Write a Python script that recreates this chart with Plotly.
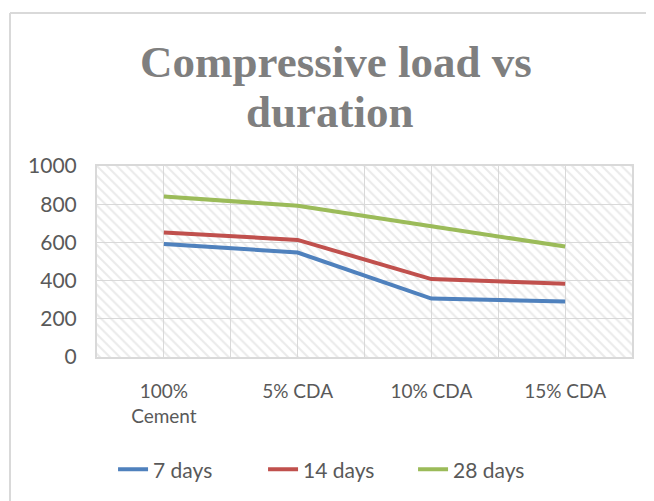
import plotly.graph_objects as go

categories = ["100%<br>Cement", "5% CDA", "10% CDA", "15% CDA"]
days_7 = [592, 547, 306, 290]
days_14 = [652, 613, 408, 384]
days_28 = [840, 792, 685, 578]
y_ticks = [0, 200, 400, 600, 800, 1000]
title_lines = ["Compressive load vs", "duration"]

series = [
    ("7 days", days_7, "#4F81BD"),
    ("14 days", days_14, "#C0504D"),
    ("28 days", days_28, "#9BBB59"),
]

xpos = list(range(len(categories)))
font_family = "Lato, Open Sans, sans-serif"
text_color = "#595959"
grid_color = "#d9d9d9"

fig = go.Figure()

# hatched plot-area background on a hidden unit axis pair
fig.add_trace(go.Scatter(
    x=[0, 1, 1, 0, 0], y=[0, 0, 1, 1, 0],
    xaxis="x", yaxis="y",
    mode="lines", line=dict(width=0),
    fill="toself", fillcolor="rgba(0,0,0,0)",
    fillpattern=dict(shape="\\", fgcolor="#d6d6d6", bgcolor="rgba(0,0,0,0)",
                     size=7, solidity=0.3),
    hoverinfo="skip", showlegend=False,
))

for name, vals, color in series:
    fig.add_trace(go.Scatter(
        x=xpos, y=vals, name=name, mode="lines",
        xaxis="x2", yaxis="y2",
        line=dict(color=color, width=4),
    ))

fig.update_layout(
    width=646, height=493,
    margin=dict(l=89, r=22, t=158, b=144, autoexpand=False),
    paper_bgcolor="white", plot_bgcolor="white",
    font=dict(family=font_family, color=text_color, size=20),
    xaxis=dict(range=[0, 1], visible=False, fixedrange=True),
    yaxis=dict(range=[0, 1], visible=False, fixedrange=True),
    xaxis2=dict(
        overlaying="x", range=[-0.5, len(categories) - 0.5],
        tickmode="array", tickvals=xpos, ticktext=categories,
        showgrid=True, gridcolor=grid_color, gridwidth=1,
        minor=dict(tickmode="linear", tick0=-0.5, dtick=1, showgrid=True,
                   gridcolor=grid_color, gridwidth=1, ticks=""),
        ticks="outside", ticklen=16, tickcolor="rgba(0,0,0,0)",
        showline=True, linecolor=grid_color, linewidth=2, mirror=True,
        zeroline=False, tickfont=dict(size=19, color=text_color),
    ),
    yaxis2=dict(
        overlaying="y", range=[0, 1000], tickvals=y_ticks,
        showgrid=True, gridcolor=grid_color, gridwidth=1,
        ticks="outside", ticklen=14, tickcolor="rgba(0,0,0,0)",
        showline=True, linecolor=grid_color, linewidth=2, mirror=True,
        zeroline=False, tickfont=dict(size=21, color=text_color),
    ),
    legend=dict(
        orientation="h", x=0.03, xanchor="left", y=-0.59, yanchor="middle",
        font=dict(size=21, color=text_color),
        entrywidth=105, entrywidthmode="pixels",
        bgcolor="rgba(0,0,0,0)",
    ),
    showlegend=True,
)

title_font = dict(family="Liberation Serif, DejaVu Serif, serif", size=45, color="#7f7f7f")
for text, tx, ty in zip(title_lines, [0.447, 0.4355], [1.545, 1.283]):
    fig.add_annotation(
        text="<b>" + text + "</b>",
        xref="paper", yref="paper", x=tx, y=ty,
        xanchor="center", yanchor="middle", showarrow=False,
        font=title_font,
    )

# chart outer border (left and top edges)
bx, by_top, by_bot, bx_right = -0.1626, 1.801, -0.754, 1.041
fig.add_shape(type="line", xref="paper", yref="paper",
              x0=bx, x1=bx, y0=by_bot, y1=by_top,
              line=dict(color="#d9d9d9", width=2))
fig.add_shape(type="line", xref="paper", yref="paper",
              x0=bx, x1=bx_right, y0=by_top, y1=by_top,
              line=dict(color="#d9d9d9", width=2))

fig.write_html("out.html")
